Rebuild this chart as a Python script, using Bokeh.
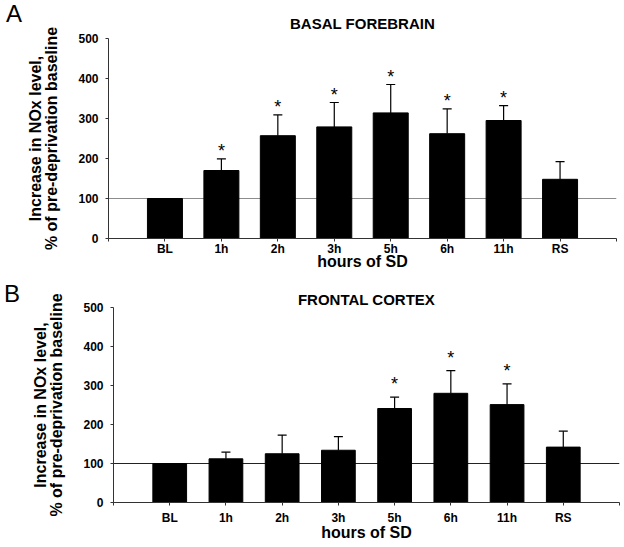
from bokeh.plotting import figure
from bokeh.layouts import column, row
from bokeh.models import FixedTicker, Span, ColumnDataSource, Div
from bokeh.embed import file_html
from bokeh.resources import INLINE
from bokeh.core.properties import value

categories = ["BL", "1h", "2h", "3h", "5h", "6h", "11h", "RS"]

bf_mean = [100, 170, 257, 279, 314, 262, 295, 148]
bf_err = [0, 29, 52, 61, 71, 62, 37, 44]
bf_sig = [False, True, True, True, True, True, True, False]

fc_mean = [100, 112, 125, 134, 241, 280, 251, 142]
fc_err = [0, 17, 48, 35, 29, 58, 53, 41]
fc_sig = [False, False, False, False, True, True, True, False]

y_ticks = [0, 100, 200, 300, 400, 500]
baseline = 100

FONT = "Liberation Sans"
LETTER_W = 24


def letter_div(letter, height, pad_top, pad_left):
    html = ('<div style="font-family: \'Liberation Sans\', Arial, sans-serif; '
            'font-size: 24px; line-height: 28px; color: black; '
            f'padding-top: {pad_top}px; padding-left: {pad_left}px;">'
            f'{letter}</div>')
    return Div(text=html, width=LETTER_W, height=height, margin=0)


def make_panel(title, mean, err, sig, width, height, b_top, b_bottom,
               b_left, b_right, line_color, star_off, bar_w,
               title_offset, title_standoff, tick_standoff, label_standoff):
    xs = list(range(1, len(categories) + 1))
    p = figure(width=width, height=height, x_range=(0, len(categories) + 1),
               y_range=(0, 500), output_backend="svg", toolbar_location=None,
               min_border_left=b_left, min_border_right=b_right,
               min_border_top=b_top, min_border_bottom=b_bottom)
    p.outline_line_color = None
    p.grid.visible = False

    p.title.text = title
    p.title.align = "center"
    p.title.offset = title_offset
    p.title.standoff = title_standoff
    p.title.text_font = FONT
    p.title.text_font_style = "bold"
    p.title.text_font_size = "15px"
    p.title.text_color = "black"

    src = ColumnDataSource(dict(
        x=xs, top=mean, err_top=[m + e for m, e in zip(mean, err)],
        cl=[x - 0.08 for x in xs], cr=[x + 0.08 for x in xs]))

    p.add_layout(Span(location=baseline, dimension="width",
                      line_color=line_color, line_width=1.2, level="underlay"))

    p.vbar(x="x", top="top", bottom=0, width=bar_w, source=src,
           fill_color="black", line_color="black")
    p.segment(x0="x", y0="top", x1="x", y1="err_top", source=src,
              line_color="black", line_width=1.2)
    p.segment(x0="cl", y0="err_top", x1="cr", y1="err_top", source=src,
              line_color="black", line_width=1.2)

    sx = [x for x, s in zip(xs, sig) if s]
    sy = [m + e + star_off for m, e, s in zip(mean, err, sig) if s]
    p.text(x=sx, y=sy, text=["*"] * len(sx), text_align="center",
           text_baseline="middle", text_font=value(FONT),
           text_font_size="18px", text_color="black")

    p.xaxis.ticker = FixedTicker(ticks=list(range(0, len(categories) + 2)))
    ov = {i + 1: c for i, c in enumerate(categories)}
    ov[0] = ""
    ov[len(categories) + 1] = ""
    p.xaxis.major_label_overrides = ov
    p.xaxis.minor_tick_line_color = None
    p.xaxis.major_tick_in = 0
    p.xaxis.major_tick_out = 3
    p.xaxis.major_label_standoff = tick_standoff
    p.xaxis.axis_label = "hours of SD"
    p.xaxis.axis_label_text_font = FONT
    p.xaxis.axis_label_text_font_style = "bold"
    p.xaxis.axis_label_text_font_size = "16px"
    p.xaxis.axis_label_standoff = label_standoff

    p.yaxis.ticker = FixedTicker(ticks=y_ticks)
    p.yaxis.minor_tick_line_color = None
    p.yaxis.major_tick_in = 0
    p.yaxis.major_tick_out = 3
    p.yaxis.major_label_standoff = 7
    p.yaxis.axis_label = "Increase in NOx level,\n% of pre-deprivation baseline"
    p.yaxis.axis_label_text_font = FONT
    p.yaxis.axis_label_text_font_style = "bold"
    p.yaxis.axis_label_text_font_size = "16px"
    p.yaxis.axis_label_text_line_height = 0.95
    p.yaxis.axis_label_standoff = 15

    for ax in (p.xaxis, p.yaxis):
        ax.axis_line_color = "#333333"
        ax.major_tick_line_color = "#333333"
        ax.major_label_text_font = FONT
        ax.major_label_text_font_style = "bold"
        ax.major_label_text_font_size = "12px"
        ax.major_label_text_color = "black"
        ax.axis_label_text_color = "black"
    return p


HA = 272
HB = 547 - HA
pa = make_panel("BASAL FOREBRAIN", bf_mean, bf_err, bf_sig,
                width=624 - LETTER_W, height=HA, b_top=38, b_bottom=HA - 238,
                b_left=108 - LETTER_W, b_right=8, line_color="#8c8c8c",
                star_off=20, bar_w=0.62, title_offset=8, title_standoff=13,
                tick_standoff=0, label_standoff=-6)
pb = make_panel("FRONTAL CORTEX", fc_mean, fc_err, fc_sig,
                width=624 - LETTER_W, height=HB, b_top=307 - HA,
                b_bottom=HB - (502 - HA), b_left=113 - LETTER_W, b_right=5,
                line_color="#222222", star_off=33, bar_w=0.6,
                title_offset=8, title_standoff=0, tick_standoff=5,
                label_standoff=-4)

la = letter_div("A", HA, 0, 6)
lb = letter_div("B", HB, 8, 4)

layout = column(row(la, pa, spacing=0), row(lb, pb, spacing=0), spacing=0)
open("out.html", "w").write(file_html(layout, INLINE))
